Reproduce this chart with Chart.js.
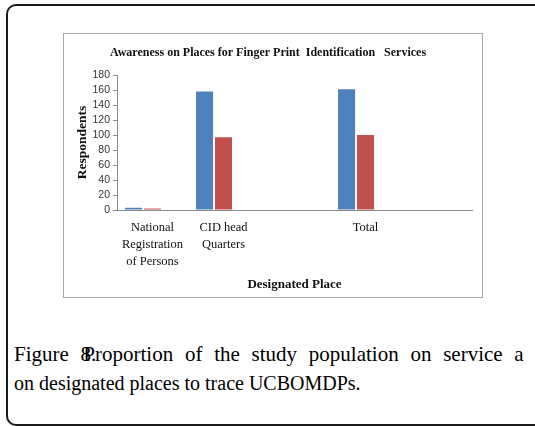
<!DOCTYPE html>
<html>
<head>
<meta charset="utf-8">
<script src="https://cdn.jsdelivr.net/npm/chart.js@4.4.0/dist/chart.umd.min.js"></script>
<style>
  html, body { margin: 0; padding: 0; background: #fff; }
  #page { position: relative; width: 535px; height: 426px; overflow: hidden; }
  #frame { position: absolute; left: 6px; top: 4px; width: 600px; height: 418px; border: 2px solid #1a1a1a; border-right: none; border-radius: 10px 0 0 10px; }
  #box { position: absolute; left: 63px; top: 33px; width: 418px; height: 263px; border: 1px solid #a6a6a6; background: #fff; }
  #caption { position: absolute; left: 14px; top: 340px; width: 700px; font-family: "Liberation Serif", "Times New Roman", serif; font-size: 20px; line-height: 29px; color: #000; white-space: nowrap; }
  #line1 { font-size: 21px; word-spacing: 6.5px; }
</style>
</head>
<body>
<div id="page">
<div id="frame"></div>
<div id="box"><canvas id="c" width="418" height="263"></canvas></div>
<div id="caption"><span id="line1"><span>Figure 8.</span><span style="margin-left:-13px">Proportion of the study population on service a</span></span><br>on designated places to trace UCBOMDPs.</div>
</div>
<script>
const categories = [["National", "Registration", "of Persons"], ["CID head", "Quarters"], "", "Total", ""];
const seriesA = [3, 158, null, 161, null];
const seriesB = [2, 97, null, 100, null];
const spacer = [null, null, null, null, null];
const yTicks = [0, 20, 40, 60, 80, 100, 120, 140, 160, 180];

const serif = "'Liberation Serif', 'Times New Roman', serif";
const axisGray = "#8c8c8c";

new Chart(document.getElementById('c'), {
  type: 'bar',
  data: {
    labels: categories,
    datasets: [
      { label: 'A', data: seriesA, backgroundColor: '#4F81BD', borderWidth: 0 },
      { label: 'B', data: seriesB, backgroundColor: '#C0504D', borderWidth: 0 },
      { label: '', data: spacer, backgroundColor: 'rgba(0,0,0,0)', borderWidth: 0 }
    ]
  },
  options: {
    responsive: false,
    animation: false,
    devicePixelRatio: 1,
    layout: { padding: { top: 0, right: 10, left: 0, bottom: 0 } },
    plugins: {
      legend: { display: false },
      tooltip: { enabled: false },
      title: {
        display: true,
        text: 'Awareness on Places for Finger Print  Identification   Services',
        color: '#111',
        font: { family: serif, size: 12, weight: 'bold' },
        padding: { top: 12, bottom: 14.6 }
      }
    },
    scales: {
      x: {
        grid: { display: false, drawTicks: false },
        border: { display: true, color: axisGray, width: 1 },
        ticks: {
          autoSkip: false, maxRotation: 0, minRotation: 0,
          color: '#111', padding: 9,
          font: { family: serif, size: 12.5, lineHeight: 1.36 }
        },
        title: {
          display: true, text: 'Designated Place', color: '#111',
          font: { family: serif, size: 13, weight: 'bold' },
          padding: { top: 0, bottom: 5 }
        },
        categoryPercentage: 1.0,
        barPercentage: 0.99,
        afterFit: (s) => { s.height = 87; }
      },
      y: {
        min: 0, max: 180,
        afterBuildTicks: (s) => { s.ticks = yTicks.map(v => ({ value: v })); },
        grid: { drawOnChartArea: false, drawTicks: true, tickLength: 4, color: axisGray },
        border: { display: true, color: axisGray, width: 1 },
        ticks: {
          autoSkip: false,
          color: '#333', padding: 3,
          font: { family: "'Liberation Sans Narrow', 'Liberation Sans', Arial, sans-serif", size: 10.5 }
        },
        title: {
          display: true, text: 'Respondents', color: '#111',
          font: { family: serif, size: 13.5, weight: 'bold' },
          padding: { top: 10.5, bottom: 0 }
        },
        afterFit: (s) => { s.width = 53; }
      }
    }
  }
});
</script>
</body>
</html>
